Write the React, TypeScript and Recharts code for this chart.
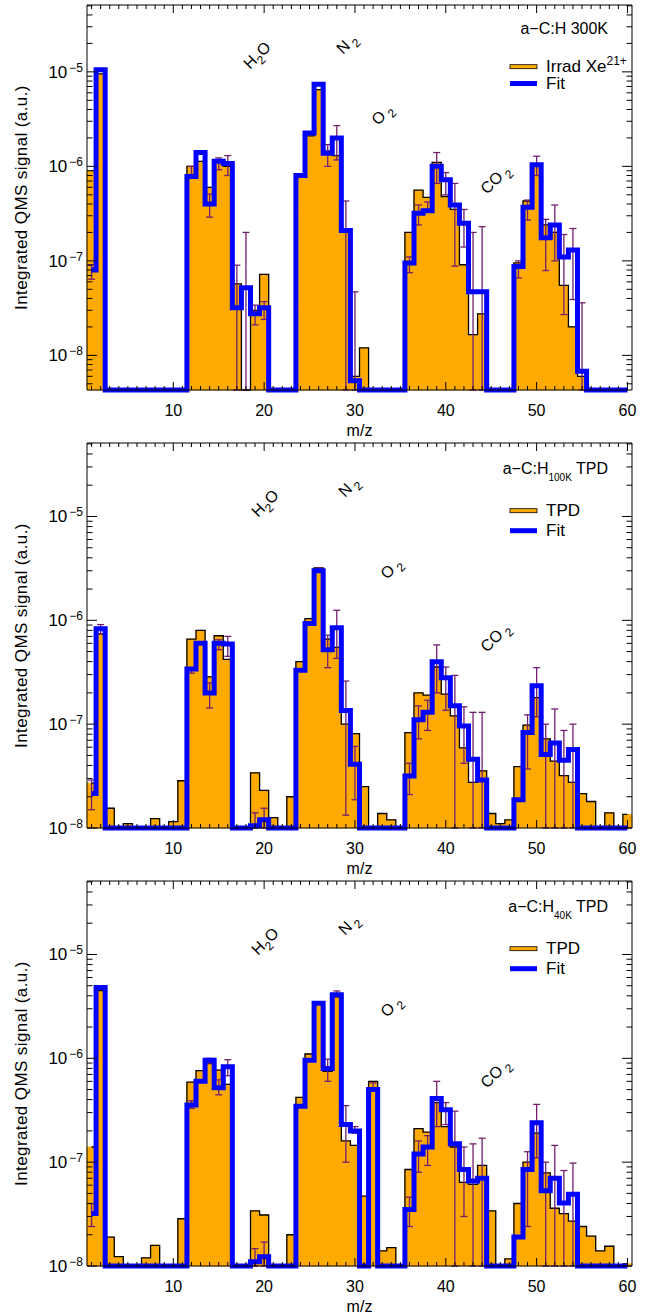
import React from 'react';
import { ComposedChart, Bar, Line, XAxis, YAxis, ErrorBar } from 'recharts';

// ---------- data ----------
const MZ = [1,2,3,4,5,6,7,8,9,10,11,12,13,14,15,16,17,18,19,20,21,22,23,24,25,26,27,28,29,30,
  31,32,33,34,35,36,37,38,39,40,41,42,43,44,45,46,47,48,49,50,51,52,53,54,55,56,57,58,59,60];

// null = below the lower edge of the axis
const MEAS_300K = [9e-7, 9.5e-6, null, null, null, null, null, null, null, null,
  null, 1.0e-6, 1.13e-6, 6.0e-7, 1.15e-6, 1.0e-6, 5.7e-8, null, 3.0e-8, 7.2e-8,
  null, null, null, 8.0e-7, 2.1e-6, 6.5e-6, 1.45e-6, 1.3e-6, 2.0e-7, 6.0e-9,
  1.2e-8, null, null, null, null, 2.0e-7, 5.6e-7, 4.7e-7, 1.1e-6, 4.8e-7,
  3.5e-7, 9.1e-8, 1.66e-8, 2.75e-8, null, null, null, 9.5e-8, 4.3e-7, 1.0e-6,
  2.4e-7, 2.0e-7, 5.5e-8, 2.0e-8, 6.0e-9, null, null, null, null, null];
const FIT_300K = [8e-8, 1.05e-5, null, null, null, null, null, null, null, null,
  null, 7.8e-7, 1.4e-6, 4.0e-7, 1.13e-6, 1.07e-6, 3.2e-8, 5.2e-8, 2.75e-8, 3.2e-8,
  null, null, null, 8.0e-7, 2.25e-6, 7.4e-6, 1.38e-6, 2.0e-6, 2.1e-7, 5.4e-9,
  null, null, null, null, null, 9.5e-8, 3.2e-7, 3.4e-7, 1.0e-6, 7.2e-7,
  3.9e-7, 2.5e-7, 4.7e-8, 4.7e-8, null, null, null, 8.7e-8, 3.7e-7, 1.04e-6,
  1.76e-7, 2.4e-7, 1.1e-7, 1.3e-7, 6.8e-9, null, null, null, null, null];
// error bars: m/z, lower bound (0 = below axis), upper bound
const ERR_MZ_300K = [1, 12, 14, 15, 16, 17, 18, 19, 20, 27, 28, 29, 30, 36, 37, 38, 39, 40, 41, 42, 43, 44, 48, 49, 50, 51, 52, 53, 54, 55];
const ERR_LO_300K = [6.4e-8, 8.2e-7, 2.9e-7, 9.2e-7, 8e-7, 0, 0, 2.1e-8, 2.4e-8, 1.0e-6, 1.17e-6, 0, 0, 7.5e-8, 2.4e-7, 3.3e-7, 6.6e-7, 5.0e-7, 8.8e-8, 1.4e-7, 0, 0, 6.6e-8, 2.7e-7, 8e-7, 7.9e-8, 1.0e-7, 2.7e-8, 3.9e-8, 0];
const ERR_HI_300K = [9.1e-8, 1.0e-6, 5.1e-7, 1.23e-6, 1.3e-6, 9e-8, 2e-7, 3.4e-8, 3.7e-8, 1.7e-6, 2.7e-6, 4.3e-7, 4.7e-8, 1.1e-7, 3.9e-7, 4.2e-7, 1.4e-6, 8.6e-7, 6.6e-7, 3.5e-7, 2.0e-7, 2.3e-7, 1.0e-7, 4.4e-7, 1.28e-6, 2.75e-7, 3.9e-7, 1.9e-7, 2.2e-7, 3.6e-8];

const MEAS_100K = [2.7e-8, 7.4e-7, 1.55e-8, null, 1.1e-8, null, null, 1.23e-8, null, 1.15e-8,
  2.85e-8, 6.6e-7, 8.0e-7, 2.85e-7, 7.1e-7, 4.2e-7, null, null, 3.4e-8, 2.3e-8,
  1.26e-8, null, 2.0e-8, 4.0e-7, 1.04e-6, 3.2e-6, 6.6e-7, 5.5e-7, 1.0e-7, 8.1e-8,
  2.5e-8, null, 1.38e-8, 1.2e-8, null, 8.3e-8, 2.0e-7, 1.9e-7, 3.55e-7, 1.95e-7,
  1.2e-7, 5.9e-8, 2.75e-8, 3.55e-8, 1.38e-8, 1.1e-8, 1.2e-8, 3.9e-8, 9.8e-8, 1.8e-7,
  7.2e-8, 4.4e-8, 3.2e-8, 2.75e-8, 2.14e-8, 1.8e-8, null, 1.4e-8, null, 1.35e-8];
const FIT_100K = [2.15e-8, 8.3e-7, null, null, null, null, null, null, null, null,
  null, 3.4e-7, 6.0e-7, 2.0e-7, 6.0e-7, 5.9e-7, null, null, 1.05e-8, 1.2e-8,
  null, null, null, 3.3e-7, 9.3e-7, 3.0e-6, 5.2e-7, 8.5e-7, 1.35e-7, 4.1e-8,
  null, null, null, null, null, 3.16e-8, 1.1e-7, 1.3e-7, 4.0e-7, 2.8e-7,
  1.5e-7, 9.6e-8, 4.6e-8, 2.9e-8, null, null, null, 1.87e-8, 8.3e-8, 2.35e-7,
  5.1e-8, 6.6e-8, 4.5e-8, 5.7e-8, null, null, null, null, null, null];
const ERR_MZ_100K = [1, 2, 12, 14, 15, 16, 19, 20, 26, 27, 28, 29, 30, 36, 37, 38, 39, 40, 41, 42, 43, 44, 49, 50, 51, 52, 53, 54];
const ERR_LO_100K = [1.5e-8, 7.4e-7, 3.1e-7, 1.43e-7, 5.2e-7, 4.5e-7, 0, 0, 3.0e-6, 3.5e-7, 4.3e-7, 1.33e-8, 1.87e-8, 2.1e-8, 7.2e-8, 8.7e-8, 2.0e-7, 1.36e-7, 0, 4.2e-8, 0, 0, 3.7e-8, 1.18e-7, 0, 0, 0, 0];
const ERR_HI_100K = [2.9e-8, 9.1e-7, 3.5e-7, 2.5e-7, 6.5e-7, 7.0e-7, 1.4e-8, 1.55e-8, 3.2e-6, 7.2e-7, 1.25e-6, 2.6e-7, 6.1e-8, 4.2e-8, 1.5e-7, 1.7e-7, 5.8e-7, 3.55e-7, 2.95e-7, 1.47e-7, 1.3e-7, 1.3e-7, 1.23e-7, 3.5e-7, 1.0e-7, 1.4e-7, 8.7e-8, 1.0e-7];

const MEAS_40K = [1.4e-7, 4.5e-6, 1.9e-8, 1.23e-8, null, null, 1.2e-8, 1.58e-8, null, null,
  2.85e-8, 5.9e-7, 7.6e-7, 8.9e-7, 7.7e-7, 5.6e-7, null, null, 3.4e-8, 3.1e-8,
  null, null, 2.0e-8, 4.2e-7, 1.1e-6, 3.45e-6, 7.5e-7, 3.9e-6, 1.6e-7, 1.45e-7,
  4.7e-8, 6.0e-7, 1.4e-8, 1.5e-8, null, 8.5e-8, 2.1e-7, 1.95e-7, 3.75e-7, 2.2e-7,
  1.4e-7, 6.4e-8, 6.1e-8, 9.3e-8, 3.4e-8, null, 1.17e-8, 4.0e-8, 1.0e-7, 1.9e-7,
  7.9e-8, 3.6e-8, 3.2e-8, 2.7e-8, 2.4e-8, 1.94e-8, 1.4e-8, 1.55e-8, null, 1.05e-8];
const FIT_40K = [3.2e-8, 4.8e-6, null, null, null, null, null, null, null, null,
  null, 3.55e-7, 6.0e-7, 9.6e-7, 5.2e-7, 8.3e-7, null, null, 1.1e-8, 1.23e-8,
  null, null, null, 3.45e-7, 9.6e-7, 3.4e-6, 8.0e-7, 4.1e-6, 2.3e-7, 2.0e-7,
  null, 5.0e-7, null, null, null, 3.5e-8, 1.2e-7, 1.4e-7, 4.1e-7, 3.2e-7,
  1.5e-7, 8.5e-8, 6.6e-8, 7.0e-8, null, null, null, 1.9e-8, 8.5e-8, 2.4e-7,
  5.3e-8, 7.0e-8, 4.05e-8, 4.9e-8, null, null, null, null, null, null];
const ERR_MZ_40K = [1, 12, 14, 15, 16, 19, 20, 27, 28, 29, 30, 32, 36, 37, 38, 39, 40, 41, 42, 43, 44, 49, 50, 51, 52, 53, 54];
const ERR_LO_40K = [2.4e-8, 3.3e-7, 9.0e-7, 4.45e-7, 6.8e-7, 0, 0, 6.0e-7, 4.1e-6, 1.0e-7, 1.9e-7, 5.2e-7, 2.4e-8, 8.0e-8, 9.3e-8, 2.2e-7, 2.3e-7, 0, 3.0e-8, 0, 0, 2.4e-8, 1.1e-7, 0, 0, 0, 0];
const ERR_HI_40K = [4.0e-8, 3.9e-7, 1.0e-6, 6.2e-7, 9.7e-7, 1.47e-8, 1.7e-8, 9.8e-7, 4.45e-6, 3.5e-7, 2.2e-7, 5.8e-7, 4.6e-8, 1.6e-7, 1.8e-7, 6.0e-7, 3.75e-7, 3.1e-7, 1.4e-7, 1.5e-7, 1.7e-7, 1.26e-7, 3.6e-7, 1.0e-7, 1.45e-7, 8.3e-8, 9.8e-8];

const X_LABELS = [10, 20, 30, 40, 50, 60];

// ---------- style ----------
const W = 656;
const H = 438;
const ORANGE = '#FFAA00';
const BLUE = '#0000FF';
const PURPLE = '#72206E';
const FONT = '"Liberation Sans", Arial, sans-serif';

function buildRows(meas: (number | null)[], fit: (number | null)[], eMz: number[], eLo: number[], eHi: number[], floor: number) {
  return MZ.map((mz, i) => {
    const k = eMz.indexOf(mz);
    const lo = k >= 0 ? (eLo[k] === 0 ? floor : eLo[k]) : null;
    const hi = k >= 0 ? eHi[k] : null;
    return {
      mz,
      meas: meas[i] == null ? floor : meas[i],
      fit: fit[i] == null ? floor : fit[i],
      errBase: lo,
      errRange: lo != null && hi != null ? [0, hi - lo] : undefined,
    };
  });
}

function logTicks(min: number, max: number) {
  const t: number[] = [];
  for (let e = -10; e <= -3; e++) {
    for (let k = 1; k <= 9; k++) {
      const v = k * Math.pow(10, e);
      if (v >= min * 0.999 && v <= max * 1.001) t.push(v);
    }
  }
  return t;
}

function isMajorLog(v: number) {
  const l = Math.log10(v);
  return Math.abs(l - Math.round(l)) < 1e-6;
}

const XTick = (props: any) => {
  const { x, y, payload, side } = props;
  const v = payload.value;
  const major = v % 10 === 0;
  const len = major ? 8 : 4;
  const dir = side === 'bottom' ? -1 : 1;
  return (
    <g>
      <line x1={x} x2={x} y1={y} y2={y + dir * len} stroke="#000" strokeWidth={1} />
      {side === 'bottom' && X_LABELS.includes(v) ? (
        <text x={x} y={y + 26} textAnchor="middle" fontFamily={FONT} fontSize={16} fill="#000">{v}</text>
      ) : null}
    </g>
  );
};

const YTick = (props: any) => {
  const { x, y, payload, side } = props;
  const v = payload.value;
  const major = isMajorLog(v);
  const len = major ? 10 : 5.5;
  const dir = side === 'left' ? 1 : -1;
  return (
    <g>
      <line x1={x} x2={x + dir * len} y1={y} y2={y} stroke="#000" strokeWidth={1} />
      {side === 'left' && major ? (
        <text x={x - 4} y={y + 6} textAnchor="end" fontFamily={FONT} fontSize={17} fill="#000">
          10<tspan dx={2} dy={-6} fontSize={12}>{'\u2212' + Math.abs(Math.round(Math.log10(v)))}</tspan>
        </text>
      ) : null}
    </g>
  );
};

const Mol = ({ x, y, main, sub, tail }: { x: number; y: number; main: string; sub: string; tail?: string }) => (
  <text transform={`translate(${x},${y}) rotate(-45)`} fontFamily={FONT} fontSize={16} fill="#000">
    {main}
    <tspan dx={tail ? 0 : 3} dy={5} fontSize={12}>{sub}</tspan>
    {tail ? <tspan dy={-5} fontSize={16}>{tail}</tspan> : null}
  </text>
);

type PanelProps = {
  rows: any[];
  domain: [number, number];
  legendText: React.ReactNode;
  title: React.ReactNode;
  ann: { h2o: [number, number]; n2: [number, number]; o2: [number, number]; co2: [number, number] };
  legendY: [number, number];
  titleY: number;
};

function Panel({ rows, domain, legendText, title, ann, legendY, titleY }: PanelProps) {
  const yTicks = logTicks(domain[0], domain[1]);
  return (
    <div style={{ position: 'relative', width: W, height: H }}>
      <ComposedChart width={W} height={H} data={rows} margin={{ top: 0, right: 0, bottom: 0, left: 0 }} barCategoryGap={0} barGap={0}>
        <XAxis xAxisId="b" dataKey="mz" type="number" domain={[0.5, 60.5]} ticks={MZ} interval={0}
          tickLine={false} tickSize={0} tickMargin={0} axisLine={{ stroke: '#000' }}
          tick={(p: any) => <XTick {...p} side="bottom" />} height={48} />
        <XAxis xAxisId="t" orientation="top" dataKey="mz" type="number" domain={[0.5, 60.5]} allowDataOverflow ticks={MZ} interval={0}
          tickLine={false} tickSize={0} tickMargin={0} axisLine={{ stroke: '#000' }}
          tick={(p: any) => <XTick {...p} side="top" />} height={5} />
        <YAxis yAxisId="l" type="number" scale="log" domain={domain} ticks={yTicks} interval={0}
          tickLine={false} tickSize={0} tickMargin={0} axisLine={{ stroke: '#000' }}
          tick={(p: any) => <YTick {...p} side="left" />} width={87} />
        <YAxis yAxisId="r" orientation="right" type="number" scale="log" domain={domain} allowDataOverflow ticks={yTicks} interval={0}
          tickLine={false} tickSize={0} tickMargin={0} axisLine={{ stroke: '#000' }}
          tick={(p: any) => <YTick {...p} side="right" />} width={24} />
        <Bar xAxisId="b" yAxisId="l" dataKey="meas" fill={ORANGE} stroke={ORANGE} strokeWidth={0.8}
          isAnimationActive={false} />
        <Line xAxisId="b" yAxisId="l" dataKey="meas" type="step" stroke="#000" strokeWidth={1.3}
          dot={false} activeDot={false} isAnimationActive={false} />
        <Line xAxisId="b" yAxisId="l" dataKey="errBase" stroke="none" dot={false} activeDot={false} isAnimationActive={false}>
          <ErrorBar dataKey="errRange" direction="y" width={3.5} stroke={PURPLE} strokeWidth={1.3} />
        </Line>
        <Line xAxisId="b" yAxisId="l" dataKey="fit" type="step" stroke={BLUE} strokeWidth={5}
          strokeLinejoin="miter" dot={false} activeDot={false} isAnimationActive={false} />
      </ComposedChart>
      <svg width={W} height={H} style={{ position: 'absolute', left: 0, top: 0, pointerEvents: 'none' }}>
        <text transform="translate(27,197.5) rotate(-90)" textAnchor="middle" fontFamily={FONT} fontSize={17} letterSpacing={0.4} fill="#000">
          Integrated QMS signal (a.u.)
        </text>
        <text x={359.5} y={436} textAnchor="middle" fontFamily={FONT} fontSize={16} fill="#000">m/z</text>
        <text x={608} y={titleY} textAnchor="end" fontFamily={FONT} fontSize={16} fill="#000">{title}</text>
        <rect x={510} y={legendY[0] - 2} width={27} height={4} fill={ORANGE} stroke="#000" strokeWidth={0.8} />
        <text x={546} y={legendY[0] + 5.5} fontFamily={FONT} fontSize={17} fill="#000">{legendText}</text>
        <line x1={510} x2={537} y1={legendY[1]} y2={legendY[1]} stroke={BLUE} strokeWidth={5} />
        <text x={546} y={legendY[1] + 5.5} fontFamily={FONT} fontSize={17} fill="#000">Fit</text>
        <Mol x={ann.h2o[0]} y={ann.h2o[1]} main="H" sub="2" tail="O" />
        <Mol x={ann.n2[0]} y={ann.n2[1]} main="N" sub="2" />
        <Mol x={ann.o2[0]} y={ann.o2[1]} main="O" sub="2" />
        <Mol x={ann.co2[0]} y={ann.co2[1]} main="CO" sub="2" />
      </svg>
    </div>
  );
}

const ROWS_300K = buildRows(MEAS_300K, FIT_300K, ERR_MZ_300K, ERR_LO_300K, ERR_HI_300K, 4.3e-9);
const ROWS_100K = buildRows(MEAS_100K, FIT_100K, ERR_MZ_100K, ERR_LO_100K, ERR_HI_100K, 1e-8);
const ROWS_40K = buildRows(MEAS_40K, FIT_40K, ERR_MZ_40K, ERR_LO_40K, ERR_HI_40K, 1e-8);

export default function App() {
  return (
    <div style={{ position: 'absolute', left: 0, top: 0, width: W, height: 1316, background: '#fff' }}>
      <Panel rows={ROWS_300K} domain={[4.3e-9, 5.1e-5]}
        title={<tspan>a{'\u2212'}C:H  300K</tspan>}
        legendText={<>Irrad Xe<tspan dy={-7} fontSize={12}>21+</tspan></>}
        ann={{ h2o: [250, 70], n2: [343, 55], o2: [378, 126], co2: [487, 195] }}
        legendY={[66.7, 83.5]} titleY={34} />
      <Panel rows={ROWS_100K} domain={[1e-8, 5.1e-5]}
        title={<><tspan>a{'\u2212'}C:H</tspan><tspan dy={7} fontSize={10}>100K</tspan><tspan dy={-7}> TPD</tspan></>}
        legendText="TPD"
        ann={{ h2o: [258, 80], n2: [345, 60], o2: [387, 142], co2: [487, 215] }}
        legendY={[72.7, 92.7]} titleY={36} />
      <Panel rows={ROWS_40K} domain={[1e-8, 5.1e-5]}
        title={<><tspan>a{'\u2212'}C:H</tspan><tspan dy={7} fontSize={10}>40K</tspan><tspan dy={-7}> TPD</tspan></>}
        legendText="TPD"
        ann={{ h2o: [258, 80], n2: [345, 60], o2: [387, 142], co2: [487, 213] }}
        legendY={[72.7, 92.7]} titleY={36} />
    </div>
  );
}
